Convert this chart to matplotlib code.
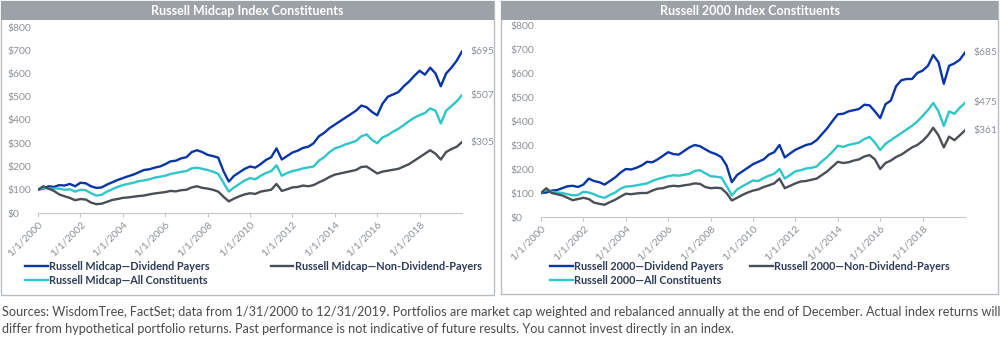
import matplotlib
matplotlib.use("Agg")
import matplotlib.pyplot as plt
from matplotlib.patches import Rectangle

plt.rcParams["font.family"] = ["Lato", "DejaVu Sans"]

# quarterly points, 1/2000 .. 12/2019
years = [2000 + q * 0.25 for q in range(81)]

mc_div = [100, 105, 115, 112, 120, 118, 125, 115, 130, 128, 115, 108,
          110, 122, 132, 142, 150, 158, 165, 175, 185, 188, 195, 200,
          210, 222, 225, 235, 240, 262, 270, 262, 250, 245, 238, 180,
          135, 160, 175, 190, 200, 195, 210, 228, 240, 278, 230, 245,
          260, 268, 280, 285, 300, 330, 345, 365, 380, 395, 410, 425,
          440, 462, 455, 435, 420, 470, 500, 510, 520, 545, 565, 590,
          612, 595, 625, 600, 545, 600, 625, 655, 695]
mc_all = [100, 108, 104, 105, 105, 100, 102, 92, 100, 98, 85, 75,
          78, 92, 102, 112, 120, 125, 130, 137, 140, 145, 152, 156,
          160, 168, 172, 177, 180, 192, 195, 190, 185, 178, 168, 130,
          92, 110, 125, 140, 150, 145, 160, 172, 180, 205, 160, 172,
          180, 185, 192, 196, 200, 225, 240, 262, 278, 285, 295, 302,
          310, 330, 338, 315, 300, 325, 335, 350, 362, 378, 395, 410,
          421, 430, 450, 440, 385, 440, 460, 480, 507]
mc_nondiv = [100, 115, 105, 95, 80, 72, 65, 55, 60, 58, 45, 38,
             40, 48, 56, 60, 65, 67, 70, 73, 75, 80, 84, 87,
             90, 95, 93, 98, 100, 110, 115, 108, 105, 100, 92, 70,
             50, 62, 72, 80, 85, 82, 92, 96, 100, 125, 95, 102,
             110, 112, 118, 115, 120, 132, 142, 155, 165, 170, 175, 180,
             185, 198, 200, 185, 170, 178, 182, 186, 190, 200, 210, 225,
             240, 255, 270, 255, 230, 262, 275, 285, 305]

r2_div = [100, 102, 110, 112, 120, 128, 130, 125, 135, 160, 150, 145,
          135, 150, 165, 185, 200, 198, 205, 215, 230, 228, 240, 255,
          270, 262, 260, 275, 290, 300, 295, 282, 270, 262, 250, 215,
          145, 175, 190, 205, 220, 230, 240, 260, 270, 300, 248, 265,
          280, 290, 300, 305, 320, 345, 370, 400, 428, 430, 440, 445,
          450, 468, 465, 440, 412, 470, 485, 545, 570, 575, 575, 600,
          610, 630, 675, 645, 555, 630, 640, 655, 685]
r2_all = [100, 115, 105, 102, 100, 95, 90, 92, 105, 102, 95, 85,
          80, 92, 102, 118, 127, 128, 132, 136, 140, 150, 158, 164,
          170, 174, 172, 176, 180, 192, 195, 182, 170, 168, 165, 130,
          90, 115, 128, 140, 152, 150, 162, 172, 180, 200, 160, 175,
          190, 195, 202, 205, 210, 232, 250, 272, 297, 292, 300, 305,
          310, 325, 334, 310, 279, 305, 320, 335, 350, 365, 380, 398,
          421, 445, 475, 440, 379, 440, 430, 455, 475]
r2_nondiv = [100, 120, 100, 95, 90, 80, 70, 75, 80, 75, 60, 55,
             51, 62, 72, 85, 97, 95, 98, 100, 100, 110, 118, 120,
             127, 130, 128, 132, 135, 140, 138, 125, 120, 122, 120, 100,
             69, 80, 92, 102, 110, 115, 125, 132, 140, 160, 120, 130,
             140, 148, 150, 155, 160, 175, 190, 210, 230, 225, 228, 235,
             240, 252, 258, 240, 200, 225, 235, 250, 260, 275, 290, 300,
             317, 340, 372, 340, 290, 335, 320, 340, 361]

tick_years = list(range(2000, 2020, 2))
tick_labels = [f"1/1/{y}" for y in tick_years]
y_ticks = list(range(0, 900, 100))

BLUE = "#0a35a8"
CYAN = "#2ec6c8"
GRAY = "#4a4f56"
TXT = "#8c9196"
LEG = "#2c3a58"

W, H = 1000, 341
fig = plt.figure(figsize=(10, 3.41), dpi=100)


def panel(x0, x1, y_bot, title):
    # frame + title bar (pixel coords from top)
    fig.add_artist(Rectangle((x0 / W, 1 - y_bot / H), (x1 - x0) / W, (y_bot - 1) / H,
                             transform=fig.transFigure, fill=False, ec="#b9bdc2", lw=1))
    fig.add_artist(Rectangle((x0 / W, 1 - 20 / H), (x1 - x0) / W, 19 / H,
                             transform=fig.transFigure, fc="#9da2a8", ec="none"))
    fig.text((x0 + x1) / 2 / W, 1 - 11 / H, title, color="white", fontsize=9,
             fontweight="bold", ha="center", va="center")


panel(1, 494, 295, "Russell Midcap Index Constituents")
panel(501, 998, 294, "Russell 2000 Index Constituents")


def chart(left, y0, y800, series, names, leg_x, colsp):
    ax = fig.add_axes([left / W, 1 - y0 / H, 424 / W, (y0 - y800) / H])
    ax.set_xlim(2000, 2020)
    ax.set_ylim(0, 800)
    lines = []
    for vals, col, name in zip(series, [BLUE, CYAN, GRAY], names):
        ln, = ax.plot(years, vals, color=col, lw=1.7, label=name)
        lines.append(ln)
        ax.annotate(f"${vals[-1]}", xy=(years[-1], vals[-1]), xytext=(6, 0),
                    textcoords="offset points", color=TXT, fontsize=7.5,
                    va="center", annotation_clip=False)
    for s in ["top", "right", "left"]:
        ax.spines[s].set_visible(False)
    ax.spines["bottom"].set_color("#c4c7cb")
    ax.set_yticks(y_ticks)
    ax.set_yticklabels([f"${v}" for v in y_ticks])
    ax.tick_params(axis="y", length=0, pad=22, labelcolor=TXT, labelsize=7.5)
    for lbl in ax.get_yticklabels():
        lbl.set_ha("left")
    ax.set_xticks(tick_years)
    ax.set_xticklabels(tick_labels, rotation=45, ha="right", rotation_mode="anchor")
    ax.tick_params(axis="x", length=3, color="#c4c7cb", labelcolor=TXT, labelsize=7.5, pad=2)
    handles = [lines[0], lines[1], lines[2]]
    fig.legend(handles, [h.get_label() for h in handles], ncol=2, frameon=False,
               loc="upper left", bbox_to_anchor=(leg_x / W, 1 - 261 / H),
               prop={"weight": "bold", "size": 7.8}, labelcolor=LEG,
               handlelength=2.1, handletextpad=0.15, columnspacing=colsp,
               borderpad=0, borderaxespad=0, labelspacing=0.3)
    return ax


chart(38, 213, 27, [mc_div, mc_all, mc_nondiv],
      ["Russell Midcap\u2014Dividend Payers", "Russell Midcap\u2014All Constituents",
       "Russell Midcap\u2014Non-Dividend-Payers"], 25, 5.6)
chart(541, 217, 25, [r2_div, r2_all, r2_nondiv],
      ["Russell 2000\u2014Dividend Payers", "Russell 2000\u2014All Constituents",
       "Russell 2000\u2014Non-Dividend-Payers"], 550, 2.4)

footer = ("Sources: WisdomTree, FactSet; data from 1/31/2000 to 12/31/2019. Portfolios are market cap "
          "weighted and rebalanced annually at the end of December. Actual index returns will\n"
          "differ from hypothetical portfolio returns. Past performance is not indicative of future "
          "results. You cannot invest directly in an index.")
fig.text(2 / W, 1 - 306 / H, footer, fontsize=9.1, color="#4a4a4a", va="top",
         linespacing=1.5)

fig.savefig("out.png", dpi=100)
